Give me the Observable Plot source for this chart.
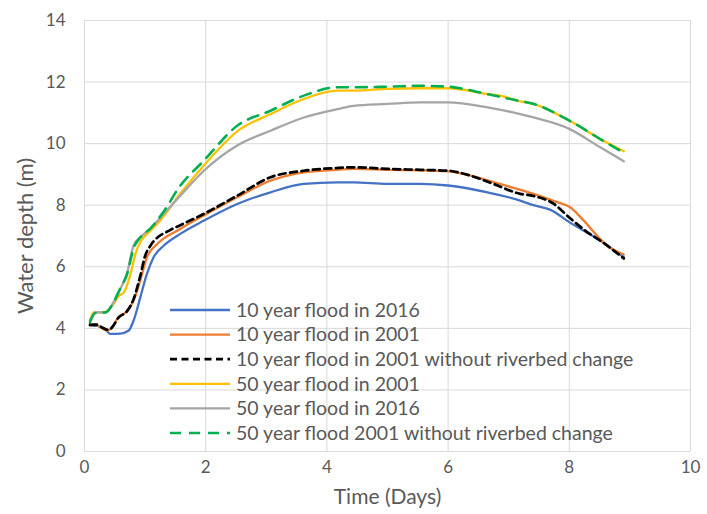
<!DOCTYPE html>
<html>
<head>
<meta charset="utf-8">
<script src="https://cdn.jsdelivr.net/npm/d3@7"></script>
<script src="https://cdn.jsdelivr.net/npm/@observablehq/plot@0.6"></script>
<style>
  html, body { margin: 0; padding: 0; background: #fff; }
  #chart { width: 707px; height: 514px; }
</style>
</head>
<body>
<div id="chart"></div>
<script>
// ---- data ----
const xTicks = [0, 2, 4, 6, 8, 10];
const yTicks = [0, 2, 4, 6, 8, 10, 12, 14];

const seriesNames = [
  "10 year flood in 2016",
  "10 year flood in 2001",
  "10 year flood in 2001 without riverbed change",
  "50 year flood in 2001",
  "50 year flood in 2016",
  "50 year flood 2001 without riverbed change"
];

// 10 year flood in 2016
const t10y2016 = [0.09, 0.2, 0.35, 0.43, 0.59, 0.73, 0.81, 0.92, 1.03, 1.14, 1.31, 1.58, 1.97, 2.52, 3.07, 3.62, 4.17, 4.44, 5.0, 5.54, 6.0, 6.65, 7.19, 7.41, 7.69, 8.0, 8.51, 8.9];
const d10y2016 = [4.09, 4.08, 3.95, 3.82, 3.83, 3.93, 4.25, 5.0, 5.77, 6.31, 6.69, 7.07, 7.5, 8.04, 8.42, 8.69, 8.74, 8.74, 8.69, 8.69, 8.64, 8.42, 8.15, 8.0, 7.85, 7.45, 6.85, 6.32];

// 10 year flood in 2001
const t10y2001 = [0.09, 0.18, 0.26, 0.37, 0.46, 0.54, 0.68, 0.81, 0.92, 1.03, 1.2, 1.58, 1.97, 2.52, 3.07, 3.62, 4.17, 4.44, 5.0, 5.54, 6.0, 6.37, 6.86, 7.41, 7.8, 8.0, 8.24, 8.51, 8.73, 8.9];
const d10y2001 = [4.09, 4.12, 4.04, 3.93, 4.04, 4.31, 4.52, 4.9, 5.55, 6.31, 6.74, 7.23, 7.67, 8.26, 8.8, 9.07, 9.15, 9.18, 9.15, 9.13, 9.1, 8.96, 8.69, 8.37, 8.1, 7.95, 7.5, 6.9, 6.55, 6.4];

// 10 year flood in 2001 without riverbed change
const t10y2001nc = [0.09, 0.2, 0.3, 0.4, 0.48, 0.56, 0.7, 0.81, 0.92, 1.0, 1.09, 1.42, 1.58, 1.97, 2.52, 3.07, 3.62, 4.17, 4.44, 5.0, 5.54, 6.0, 6.37, 6.75, 7.19, 7.41, 7.74, 8.0, 8.3, 8.51, 8.9];
const d10y2001nc = [4.12, 4.12, 4.02, 3.95, 4.1, 4.35, 4.55, 4.95, 5.7, 6.35, 6.69, 7.2, 7.35, 7.72, 8.31, 8.91, 9.12, 9.21, 9.23, 9.18, 9.15, 9.12, 8.96, 8.69, 8.37, 8.3, 8.05, 7.6, 7.12, 6.85, 6.27];

// 50 year flood in 2001
const t50y2001 = [0.09, 0.15, 0.32, 0.48, 0.57, 0.65, 0.76, 0.84, 0.92, 1.09, 1.25, 1.58, 1.97, 2.52, 3.07, 3.62, 4.17, 4.44, 5.0, 5.54, 6.0, 6.65, 6.86, 7.14, 7.41, 8.0, 8.51, 8.9];
const d50y2001 = [4.25, 4.52, 4.52, 4.79, 5.06, 5.17, 5.77, 6.42, 6.8, 7.17, 7.5, 8.37, 9.29, 10.4, 10.96, 11.45, 11.72, 11.72, 11.78, 11.8, 11.8, 11.61, 11.56, 11.4, 11.29, 10.75, 10.15, 9.75];

// 50 year flood in 2016
const t50y2016 = [0.09, 0.18, 0.35, 0.48, 0.59, 0.7, 0.81, 0.92, 1.09, 1.31, 1.58, 1.97, 2.52, 3.07, 3.62, 4.17, 4.44, 5.0, 5.54, 6.0, 6.65, 7.19, 7.41, 8.0, 8.51, 8.9];
const d50y2016 = [4.25, 4.52, 4.52, 4.85, 5.28, 5.77, 6.69, 6.96, 7.25, 7.72, 8.31, 9.12, 9.94, 10.42, 10.85, 11.12, 11.23, 11.29, 11.34, 11.34, 11.18, 10.96, 10.85, 10.48, 9.88, 9.43];

// 50 year flood 2001 without riverbed change
const t50y2001nc = [0.09, 0.18, 0.35, 0.48, 0.59, 0.7, 0.81, 0.92, 1.09, 1.31, 1.56, 1.97, 2.52, 3.07, 3.62, 4.17, 4.44, 5.0, 5.54, 6.0, 6.65, 7.14, 7.41, 8.0, 8.51, 8.9];
const d50y2001nc = [4.2, 4.5, 4.52, 4.85, 5.3, 5.75, 6.6, 6.95, 7.25, 7.8, 8.58, 9.45, 10.58, 11.07, 11.56, 11.83, 11.83, 11.85, 11.88, 11.85, 11.61, 11.4, 11.29, 10.75, 10.15, 9.7];

// ---- styles ----
const styles = [
  {stroke: "#4472C4", dash: null, w: 2.3},
  {stroke: "#ED7D31", dash: null, w: 2.3},
  {stroke: "#000000", dash: "7,4.5", w: 2.7},
  {stroke: "#FFC000", dash: null, w: 2.3},
  {stroke: "#A5A5A5", dash: null, w: 2.3},
  {stroke: "#00B050", dash: "11,8", w: 2.6}
];
const times = [t10y2016, t10y2001, t10y2001nc, t50y2001, t50y2016, t50y2001nc];
const depths = [d10y2016, d10y2001, d10y2001nc, d50y2001, d50y2016, d50y2001nc];

const series = seriesNames.map((name, i) => times[i].map((t, j) => ({name, t, d: depths[i][j]})));

const lineMarks = series.map((data, i) => Plot.line(data, {
  x: "t", y: "d",
  stroke: styles[i].stroke,
  strokeWidth: styles[i].w,
  strokeDasharray: styles[i].dash,
  curve: "monotone-x"
}));

const FONT = "Lato, 'Open Sans', sans-serif";
const TEXT = "#595959";

const chart = Plot.plot({
  width: 707,
  height: 514,
  marginLeft: 84,
  marginRight: 17,
  marginTop: 20,
  marginBottom: 63,
  style: {fontFamily: FONT, fontSize: "17px", color: TEXT, background: "#fff"},
  x: {domain: [0, 10]},
  y: {domain: [0, 14]},
  marks: [
    Plot.gridX(xTicks, {stroke: "#d9d9d9", strokeOpacity: 1, strokeWidth: 1}),
    Plot.gridY(yTicks, {stroke: "#d9d9d9", strokeOpacity: 1, strokeWidth: 1}),
    Plot.axisX({ticks: xTicks, tickSize: 0, tickPadding: 9, label: null, fontSize: 17, fill: TEXT}),
    Plot.axisY({ticks: yTicks, tickSize: 0, tickPadding: 19, label: null, fontSize: 17, fill: TEXT}),
    ...lineMarks,
    Plot.text(["Time (Days)"], {frameAnchor: "bottom", dy: 46, lineAnchor: "middle", fontSize: 21, fill: TEXT}),
    Plot.text(["Water depth (m)"], {frameAnchor: "left", dx: -59, rotate: -90, lineAnchor: "middle", textAnchor: "middle", fontSize: 22, fill: TEXT})
  ]
});

document.getElementById("chart").appendChild(chart);

// ---- legend (inside the plot area, like the reference) ----
const svg = d3.select(chart);
const lg = svg.append("g").attr("class", "legend").attr("text-anchor", "start");
const lx0 = 170, lx1 = 230, tx = 236, ly0 = 310, lstep = 24.6;
seriesNames.forEach((name, i) => {
  const y = ly0 + i * lstep;
  lg.append("line")
    .attr("x1", lx0).attr("x2", lx1).attr("y1", y).attr("y2", y)
    .attr("stroke", styles[i].stroke).attr("stroke-width", styles[i].w)
    .attr("stroke-dasharray", styles[i].dash);
  lg.append("text")
    .attr("x", tx).attr("y", y).attr("dy", "0.35em")
    .attr("text-anchor", "start")
    .attr("fill", TEXT).attr("font-family", FONT).attr("font-size", 19.5)
    .text(name);
});
</script>
</body>
</html>
